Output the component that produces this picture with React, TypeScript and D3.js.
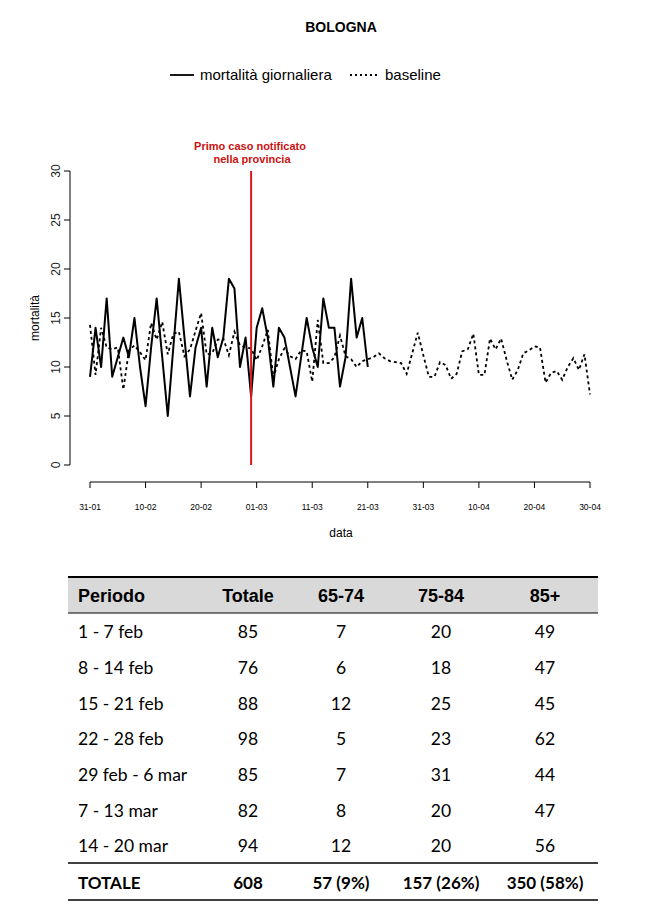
import { scaleLinear, scaleTime, scalePoint, line, timeDay, timeFormat } from "d3";

// daily deaths, 31-01 .. 21-03
const mortalita = [
  9, 14, 10, 17, 9, 11, 13, 11, 15, 10, 6, 12, 17, 11, 5, 12, 19, 13, 7, 12,
  14, 8, 14, 11, 13, 19, 18, 10, 13, 7, 14, 16, 13, 8, 14, 13, 10, 7, 11, 15,
  12, 10, 17, 14, 14, 8, 11, 19, 13, 15, 10,
];

// baseline, 31-01 .. 30-04
const baseline = [
  14.3, 9.2, 14.0, 12.0, 11.8, 12.0, 7.7, 11.7, 12.2, 11.5, 10.7, 14.5, 12.8, 14.6, 11.3, 13.4,
  13.6, 11.1, 11.8, 13.7, 15.5, 11.3, 11.4, 12.8, 12.9, 11.2, 13.6, 12.2, 12.0, 11.9, 10.7,
  12.1, 13.8, 8.9, 10.8, 11.9, 11.1, 10.8, 11.7, 11.6, 8.5, 14.8, 10.4, 10.4, 11.0, 13.2,
  11.1, 10.8, 10.0, 10.6, 10.8, 11.0, 11.4, 10.9, 10.6, 10.5, 10.4, 9.3, 11.4, 13.5, 11.2,
  9.0, 9.0, 10.5, 10.2, 8.8, 9.3, 11.6, 11.8, 13.4, 9.2, 9.2, 12.9, 11.8, 12.9, 10.7, 8.7,
  9.7, 11.4, 11.7, 12.1, 12.0, 8.4, 9.4, 9.6, 8.7, 10.0, 10.9, 9.7, 11.3, 7.2,
];

const yTicks = [0, 5, 10, 15, 20, 25, 30];

const periodi = ["1 - 7 feb", "8 - 14 feb", "15 - 21 feb", "22 - 28 feb", "29 feb - 6 mar", "7 - 13 mar", "14 - 20 mar"];
const totale = [85, 76, 88, 98, 85, 82, 94];
const eta6574 = [7, 6, 12, 5, 7, 8, 12];
const eta7584 = [20, 18, 25, 23, 31, 20, 20];
const eta85 = [49, 47, 45, 62, 44, 47, 56];
const colonne = ["Periodo", "Totale", "65-74", "75-84", "85+"];
const totaleRiga = ["TOTALE", "608", "57 (9%)", "157 (26%)", "350 (58%)"];

const start = new Date(2020, 0, 31);
const end = new Date(2020, 3, 30);
const primoCaso = new Date(2020, 1, 29);

const axisFont = "Liberation Sans, Arial, sans-serif";
const tableFont = "Lato, sans-serif";

export default function App() {
  const x = scaleTime().domain([start, end]).range([90, 590]);
  const y = scaleLinear().domain([0, 30]).range([465, 171]);
  const day = (i: number) => timeDay.offset(start, i);
  const path = line<number>().x((_, i) => x(day(i))).y((d) => y(d));
  const xTicks = timeDay.range(start, timeDay.offset(end, 1), 10);
  const fmt = timeFormat("%d-%m");

  const colX = [78, 248, 341, 441, 545];
  const rowY = scalePoint<string>().domain(periodi).range([634, 848]);

  return (
    <svg width={662} height={910} style={{ position: "absolute", left: 0, top: 0 }} fontFamily={axisFont}>
      <rect width={662} height={910} fill="#fff" />
      <text x={341} y={32} textAnchor="middle" fontSize={14} fontWeight="bold">BOLOGNA</text>

      {/* legend */}
      <line x1={170} x2={194} y1={75} y2={75} stroke="#000" strokeWidth={1.8} />
      <text x={200} y={80} fontSize={15}>mortalità giornaliera</text>
      <line x1={350} x2={378} y1={75} y2={75} stroke="#000" strokeWidth={1.8} strokeDasharray="2 3" />
      <text x={385} y={80} fontSize={15}>baseline</text>

      {/* y axis */}
      <line x1={70} x2={70} y1={y(0)} y2={y(30)} stroke="#000" />
      {yTicks.map((t) => (
        <g key={t}>
          <line x1={64} x2={70} y1={y(t)} y2={y(t)} stroke="#000" />
          <text transform={`translate(60,${y(t)}) rotate(-90)`} textAnchor="middle" fontSize={12} fill="#222">{t}</text>
        </g>
      ))}
      <text transform={`translate(39,${y(15)}) rotate(-90)`} textAnchor="middle" fontSize={12}>mortalità</text>

      {/* x axis */}
      <line x1={x(start)} x2={x(end)} y1={482} y2={482} stroke="#000" />
      {xTicks.map((t) => (
        <g key={+t}>
          <line x1={x(t)} x2={x(t)} y1={482} y2={488} stroke="#000" />
          <text x={x(t)} y={510} textAnchor="middle" fontSize={8.5}>{fmt(t)}</text>
        </g>
      ))}
      <text x={341} y={537} textAnchor="middle" fontSize={12}>data</text>

      {/* series */}
      <path d={path(baseline) ?? ""} fill="none" stroke="#000" strokeWidth={1.8} strokeDasharray="3 3" />
      <path d={path(mortalita) ?? ""} fill="none" stroke="#000" strokeWidth={2} strokeLinejoin="round" />

      {/* first case */}
      <line x1={x(primoCaso)} x2={x(primoCaso)} y1={y(0)} y2={y(30)} stroke="#d7191c" strokeWidth={2} />
      <text x={250} y={150} textAnchor="middle" fontSize={11} fontWeight="bold" fill="#cc1111">Primo caso notificato</text>
      <text x={252} y={163} textAnchor="middle" fontSize={11} fontWeight="bold" fill="#cc1111">nella provincia</text>

      {/* table */}
      <rect x={68} y={578} width={530} height={35} fill="#d9d9d9" />
      <line x1={68} x2={598} y1={577} y2={577} stroke="#000" strokeWidth={2} />
      <line x1={68} x2={598} y1={613} y2={613} stroke="#000" strokeWidth={1} />
      {colonne.map((c, i) => (
        <text key={c} x={colX[i]} y={597} dominantBaseline="middle" textAnchor={i === 0 ? "start" : "middle"}
          fontSize={18} fontWeight="bold" fontFamily={axisFont}>{c}</text>
      ))}
      {periodi.map((p, r) => (
        <g key={p} fontFamily={tableFont} fontSize={17.5}>
          <text x={colX[0]} y={rowY(p)} dominantBaseline="middle">{p}</text>
          <text x={colX[1]} y={rowY(p)} dominantBaseline="middle" textAnchor="middle">{totale[r]}</text>
          <text x={colX[2]} y={rowY(p)} dominantBaseline="middle" textAnchor="middle">{eta6574[r]}</text>
          <text x={colX[3]} y={rowY(p)} dominantBaseline="middle" textAnchor="middle">{eta7584[r]}</text>
          <text x={colX[4]} y={rowY(p)} dominantBaseline="middle" textAnchor="middle">{eta85[r]}</text>
        </g>
      ))}
      <line x1={68} x2={598} y1={863} y2={863} stroke="#000" strokeWidth={1.5} />
      {totaleRiga.map((c, i) => (
        <text key={c} x={colX[i]} y={885} dominantBaseline="middle" textAnchor={i === 0 ? "start" : "middle"}
          fontSize={17} fontWeight="bold" fontFamily={tableFont}>{c}</text>
      ))}
      <line x1={68} x2={598} y1={900} y2={900} stroke="#000" strokeWidth={1.5} />
    </svg>
  );
}
